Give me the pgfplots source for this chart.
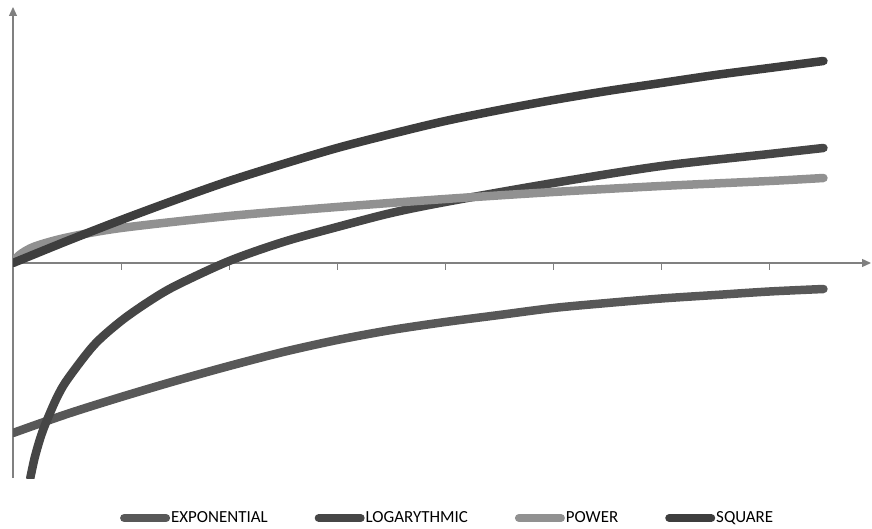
\documentclass[border=0pt]{standalone}
\usepackage{fontspec}
\setmainfont{Carlito}
\usepackage{pgfplots}
\pgfplotsset{compat=1.18}
\usetikzlibrary{arrows.meta}

\definecolor{axisgray}{RGB}{128,128,128}
\definecolor{cexp}{RGB}{88,88,88}
\definecolor{clog}{RGB}{70,70,70}
\definecolor{cpow}{RGB}{145,145,145}
\definecolor{csq}{RGB}{62,62,62}

\begin{document}
\begin{tikzpicture}
\useasboundingbox (-13bp,-51bp) rectangle (859bp,478bp);
\begin{axis}[
    scale only axis,
    width=858bp, height=471bp,
    at={(0,0)}, anchor=south west,
    axis lines=middle,
    axis line style={draw=axisgray, line width=1.3bp, -{Triangle[length=9bp,width=8bp]}},
    xmin=0, xmax=7.94,
    ymin=-2.15, ymax=2.56,
    xtick={1,2,3,4,5,6,7},
    xticklabels={},
    ytick=\empty,
    xtick align=outside,
    major tick length=7bp,
    tick style={draw=axisgray, line width=1bp},
    legend columns=4,
    legend style={at={(0.506,-0.085)}, anchor=center, draw=none, fill=none,
        font=\fontsize{17}{20}\selectfont,
        nodes={inner sep=1bp},
        /tikz/every even column/.append style={column sep=46bp}},
    legend image code/.code={\draw[#1, line width=8bp, line cap=round] (0bp,0bp) -- (42bp,0bp);},
    every axis plot/.append style={line width=8.5bp, line cap=round, line join=round, smooth},
    ]
    % exponential
    \addplot[cexp] coordinates {
    (0,-1.70) (0.5,-1.51) (1,-1.34) (1.5,-1.18) (2,-1.03) (2.5,-0.89)
    (3,-0.77) (3.5,-0.67) (4,-0.59) (4.5,-0.52) (5,-0.45) (5.5,-0.40)
    (6,-0.355) (6.5,-0.32) (7,-0.285) (7.5,-0.26)};
    % logarythmic
    \addplot[clog] coordinates {
    (0.16,-2.15) (0.2,-1.95) (0.25,-1.76) (0.3,-1.61) (0.4,-1.36) (0.5,-1.17)
    (0.75,-0.82) (1,-0.58) (1.25,-0.39) (1.5,-0.23) (2,0.02) (2.5,0.21)
    (3,0.36) (3.5,0.50) (4,0.61) (5,0.80) (6,0.97) (7,1.09) (7.5,1.15)};
    % power
    \addplot[cpow] coordinates {
    (0,0) (0.06,0.08) (0.2,0.165) (0.5,0.255)
    (1,0.35) (2,0.47) (3,0.56) (4,0.64) (5,0.71) (6,0.77) (7,0.82) (7.5,0.85)};
    % square
    \addplot[csq] coordinates {
    (0,0) (0.5,0.22) (1,0.43) (1.5,0.63) (2,0.82) (2.5,0.99) (3,1.15)
    (3.5,1.29) (4,1.42) (4.5,1.53) (5,1.63) (5.5,1.72) (6,1.80)
    (6.5,1.88) (7,1.95) (7.5,2.02)};
    \legend{EXPONENTIAL, LOGARYTHMIC, POWER, SQUARE}
\end{axis}
\end{tikzpicture}
\end{document}
